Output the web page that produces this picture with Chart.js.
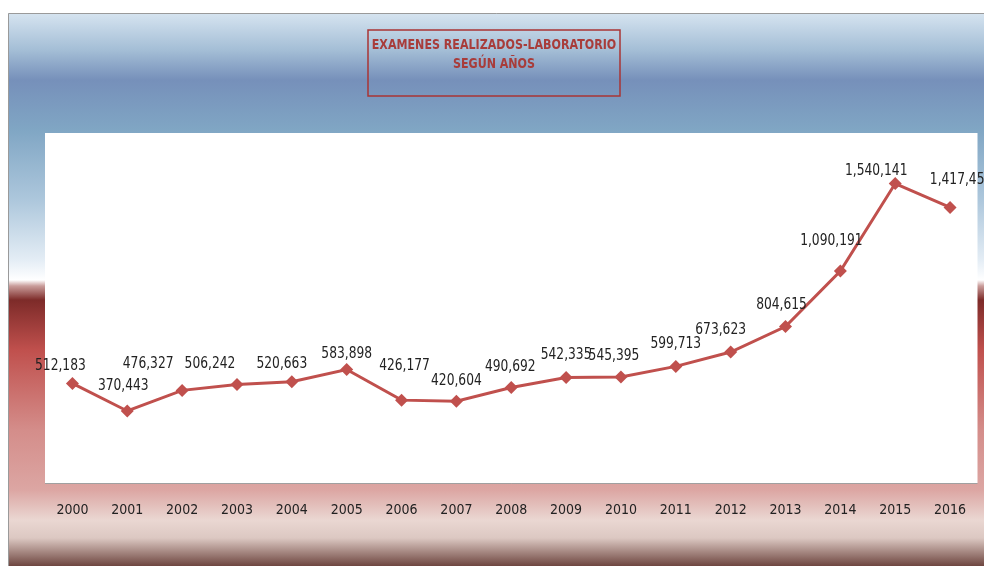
<!DOCTYPE html>
<html lang="es">
<head>
<meta charset="utf-8"/>
<title>Examenes realizados - laboratorio</title>
<style>
  html, body { margin: 0; padding: 0; background: #fff; }
  #wrap { width: 984px; height: 566px; position: relative; }
</style>
</head>
<body>
<div id="wrap"><canvas id="chart" width="984" height="566"></canvas></div>
<script src="https://cdn.jsdelivr.net/npm/chart.js"></script>
<script>
  // datos
  const years = ['2000', '2001', '2002', '2003', '2004', '2005', '2006', '2007', '2008',
                 '2009', '2010', '2011', '2012', '2013', '2014', '2015', '2016'];
  const examenes = [512183, 370443, 476327, 506242, 520663, 583898, 426177, 420604, 490692,
                    542335, 545395, 599713, 673623, 804615, 1090191, 1540141, 1417450];
  const titleLines = ['EXAMENES REALIZADOS-LABORATORIO', 'SEGÚN AÑOS'];

  // desplazamiento de cada etiqueta respecto a su punto (estilo, no datos)
  const labelDx = [-12, -4, -34, -27, -10, 0, 3, 0, -1, 0, -7, 0, -10, -4, -9, -19, 11];
  const labelDy = [-17, -25, -26, -21, -18, -15, -34, -20, -21, -23, -21, -22, -22, -22, -30, -13, -27];

  const narrow = "'DejaVu Sans Condensed', 'Liberation Sans Narrow', sans-serif";

  // fondo degradado, marco y titulo
  const backdrop = {
    id: 'backdrop',
    beforeDraw(chart) {
      const ctx = chart.ctx;
      const a = chart.chartArea;
      ctx.save();
      const g = ctx.createLinearGradient(0, 13, 0, 566);
      const stops = [
        [13, '#d6e4f0'], [50, '#a4bed6'], [80, '#7690ba'], [130, '#80a6c4'],
        [200, '#adc7dc'], [260, '#e4edf5'], [280, '#ffffff'], [286, '#c99c9a'],
        [300, '#7d2b29'], [350, '#c0504d'], [430, '#d48d8a'], [490, '#dca6a3'],
        [520, '#ead7d2'], [538, '#dcc8c2'], [566, '#6e4640']
      ];
      stops.forEach(s => g.addColorStop((s[0] - 13) / (566 - 13), s[1]));
      ctx.fillStyle = g;
      ctx.fillRect(8, 13, 984 - 8, 566 - 13);
      ctx.strokeStyle = '#9a9a9a';
      ctx.lineWidth = 1;
      ctx.beginPath();
      ctx.moveTo(8.5, 566);
      ctx.lineTo(8.5, 13.5);
      ctx.lineTo(984, 13.5);
      ctx.stroke();

      // area de trazado
      ctx.fillStyle = '#ffffff';
      ctx.fillRect(a.left, a.top, a.right - a.left, a.bottom - a.top);
      ctx.strokeStyle = '#a0a0a0';
      ctx.beginPath();
      ctx.moveTo(a.left, a.bottom + 0.5);
      ctx.lineTo(a.right, a.bottom + 0.5);
      ctx.stroke();

      // caja del titulo
      ctx.strokeStyle = '#a93434';
      ctx.lineWidth = 1.5;
      ctx.strokeRect(368, 30, 252, 66);
      ctx.fillStyle = '#a83c3a';
      ctx.font = 'bold 14px ' + narrow;
      ctx.textAlign = 'center';
      ctx.textBaseline = 'middle';
      titleLines.forEach((t, i) => {
        ctx.save();
        ctx.translate(494, 45 + i * 19);
        ctx.scale(0.88, 1);
        ctx.fillText(t, 0, 0);
        ctx.restore();
      });
      ctx.restore();
    }
  };

  // etiquetas de valores
  const valueLabels = {
    id: 'valueLabels',
    afterDatasetsDraw(chart) {
      const ctx = chart.ctx;
      const meta = chart.getDatasetMeta(0);
      ctx.save();
      ctx.fillStyle = '#222222';
      ctx.font = '15.5px ' + narrow;
      ctx.textAlign = 'center';
      ctx.textBaseline = 'middle';
      meta.data.forEach((pt, i) => {
        const txt = examenes[i].toLocaleString('en-US');
        ctx.save();
        ctx.translate(pt.x + labelDx[i], pt.y + labelDy[i]);
        ctx.scale(0.88, 1);
        ctx.fillText(txt, 0, 0);
        ctx.restore();
      });
      ctx.restore();
    }
  };

  new Chart(document.getElementById('chart'), {
    type: 'line',
    data: {
      labels: years,
      datasets: [{
        label: 'Examenes',
        data: examenes,
        borderColor: '#c0504d',
        backgroundColor: '#c0504d',
        borderWidth: 3,
        pointStyle: 'rectRot',
        pointRadius: 6.5,
        pointBorderWidth: 0,
        tension: 0
      }]
    },
    options: {
      responsive: false,
      animation: false,
      layout: { padding: { left: 45, right: 6, top: 133, bottom: 0 } },
      plugins: {
        legend: { display: false },
        tooltip: { enabled: false }
      },
      scales: {
        x: {
          offset: true,
          grid: { display: true, drawOnChartArea: false, drawTicks: true, tickLength: 17, color: 'rgba(0,0,0,0)' },
          border: { display: false },
          ticks: {
            color: '#222222',
            font: { family: narrow, size: 14 },
            padding: 2,
            maxRotation: 0
          },
          afterFit(scale) { scale.height = 83; }
        },
        y: {
          display: false,
          min: 0,
          max: 1800000
        }
      }
    },
    plugins: [backdrop, valueLabels]
  });
</script>
</body>
</html>
